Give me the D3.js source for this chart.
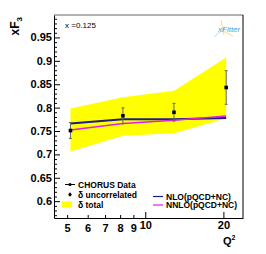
<!DOCTYPE html>
<html>
<head>
<meta charset="utf-8">
<script src="https://cdn.jsdelivr.net/npm/d3@7"></script>
<style>
    body { margin: 0; background: #fff; }
    text { font-family: "Liberation Sans", Arial, sans-serif; }
</style>
</head>
<body>
<div id="chart"></div>
<script>
// CHORUS xF3 at x = 0.125
const q2 = [5.15, 8.2, 12.9, 20.5];
const xf3 = [0.751, 0.7825, 0.790, 0.843];
const errUnc = [0.017, 0.017, 0.019, 0.036];
const bandLo = [0.706, 0.740, 0.745, 0.777];
const bandHi = [0.798, 0.822, 0.836, 0.907];
const nlo = [0.766, 0.775, 0.775, 0.778];
const nnlo = [0.752, 0.766, 0.773, 0.782];

const xMajor = [10, 20];
const xMinor = [5, 6, 7, 8, 9];
const yMajor = [0.6, 0.65, 0.7, 0.75, 0.8, 0.85, 0.9, 0.95];

const width = 266, height = 254;
const margin = { top: 15, right: 23, bottom: 36, left: 54 };

const svg = d3.select("#chart")
    .append("svg")
    .attr("width", width)
    .attr("height", height);

let x = d3.scaleLog()
    .domain([4.45, 23.8])
    .range([margin.left, width - margin.right]);
let y = d3.scaleLinear()
    .domain([0.564, 0.998])
    .range([height - margin.bottom, margin.top]);

// total uncertainty band
let area = d3.area()
    .x((d, i) => x(q2[i]))
    .y0((d, i) => y(bandLo[i]))
    .y1((d, i) => y(bandHi[i]));
svg.append("path")
    .datum(q2)
    .attr("d", area)
    .attr("fill", "#ffff00");

// theory curves
let line = vals => d3.line()
    .x((d, i) => x(q2[i]))
    .y((d, i) => y(vals[i]))(q2);
svg.append("path")
    .attr("d", line(nlo))
    .attr("fill", "none")
    .attr("stroke", "#1c1c8c")
    .attr("stroke-width", 2);
svg.append("path")
    .attr("d", line(nnlo))
    .attr("fill", "none")
    .attr("stroke", "#e020e0")
    .attr("stroke-width", 1.6);

// data points with uncorrelated errors
let pts = svg.append("g")
    .selectAll("g")
    .data(q2)
    .enter()
    .append("g");
pts.append("line")
    .attr("x1", d => x(d)).attr("x2", d => x(d))
    .attr("y1", (d, i) => y(xf3[i] - errUnc[i]))
    .attr("y2", (d, i) => y(xf3[i] + errUnc[i]))
    .attr("stroke", "#666");
[-1, 1].forEach(s => {
    pts.append("line")
        .attr("x1", d => x(d) - 1.5).attr("x2", d => x(d) + 1.5)
        .attr("y1", (d, i) => y(xf3[i] + s * errUnc[i]))
        .attr("y2", (d, i) => y(xf3[i] + s * errUnc[i]))
        .attr("stroke", "#666");
});
pts.append("rect")
    .attr("x", d => x(d) - 1.8)
    .attr("y", (d, i) => y(xf3[i]) - 1.8)
    .attr("width", 3.6).attr("height", 3.6)
    .attr("fill", "#000");

// frame
let x0 = margin.left, x1 = width - margin.right;
let y0 = margin.top, y1 = height - margin.bottom;
svg.append("line").attr("x1", x0).attr("x2", x1).attr("y1", y0).attr("y2", y0)
    .attr("stroke", "#999").attr("stroke-width", 1.5);
svg.append("line").attr("x1", x1).attr("x2", x1).attr("y1", y0).attr("y2", y1)
    .attr("stroke", "#000");

// y axis: inner ticks, minor every 0.01
let yMinorVals = d3.range(0.57, 0.995, 0.01).filter(v => !yMajor.some(m => Math.abs(m - v) < 1e-6));
svg.append("g")
    .attr("transform", "translate(" + x0 + ",0)")
    .call(d3.axisLeft(y).tickValues(yMinorVals).tickSize(-3).tickFormat(""))
    .call(g => g.select(".domain").remove());
let yAxis = svg.append("g")
    .attr("transform", "translate(" + x0 + ",0)")
    .call(d3.axisLeft(y).tickValues(yMajor).tickSizeInner(-6).tickSizeOuter(0)
        .tickPadding(2).tickFormat(d3.format("")));
yAxis.selectAll("text")
    .attr("font-size", 11).attr("font-weight", "bold").attr("fill", "#000");

// x axis (log)
let xAxisMinor = svg.append("g")
    .attr("transform", "translate(0," + y1 + ")")
    .call(d3.axisBottom(x).tickValues(xMinor).tickSizeInner(-3).tickSizeOuter(0)
        .tickPadding(6).tickFormat(d3.format("d")));
let xAxis = svg.append("g")
    .attr("transform", "translate(0," + y1 + ")")
    .call(d3.axisBottom(x).tickValues(xMajor).tickSizeInner(-6).tickSizeOuter(0)
        .tickPadding(3).tickFormat(d3.format("d")));
xAxisMinor.select(".domain").remove();
[xAxis, xAxisMinor].forEach(a => a.selectAll("text")
    .attr("font-size", 11).attr("font-weight", "bold").attr("fill", "#000"));

// titles
svg.append("text")
    .attr("transform", "translate(19,17) rotate(-90)")
    .attr("text-anchor", "end")
    .attr("font-size", 12).attr("font-weight", "bold")
    .html('xF<tspan font-size="8" dy="3">3</tspan>');
svg.append("text")
    .attr("x", 223).attr("y", 245)
    .attr("font-size", 11).attr("font-weight", "bold")
    .html('Q<tspan font-size="7" dy="-5">2</tspan>');
svg.append("text")
    .attr("x", 65).attr("y", 27.5)
    .attr("font-size", 8)
    .text("x =0.125");

// xFitter logo
let logo = svg.append("g").attr("transform", "translate(215,30)");
logo.append("line").attr("x1", 6).attr("y1", -10).attr("x2", 9).attr("y2", 5)
    .attr("stroke", "#f4d27a").attr("stroke-width", 0.8);
logo.append("line").attr("x1", -1).attr("y1", 7).attr("x2", 10).attr("y2", -2)
    .attr("stroke", "#9fd0f0").attr("stroke-width", 0.8);
logo.append("line").attr("x1", 8).attr("y1", 1).attr("x2", 18).attr("y2", 6)
    .attr("stroke", "#f4d27a").attr("stroke-width", 0.8);
logo.append("text")
    .attr("x", 3).attr("y", 2)
    .attr("font-size", 8).attr("font-style", "italic")
    .attr("fill", "#3fa9dd")
    .text("xFitter");

// legend
let leg = svg.append("g").attr("font-size", 8.5).attr("font-weight", "bold");
leg.append("line").attr("x1", 65).attr("x2", 75).attr("y1", 184.5).attr("y2", 184.5)
    .attr("stroke", "#000");
leg.append("circle").attr("cx", 70).attr("cy", 184.5).attr("r", 1.6);
leg.append("line").attr("x1", 70).attr("x2", 70).attr("y1", 192.5).attr("y2", 196.5)
    .attr("stroke", "#000");
leg.append("circle").attr("cx", 70).attr("cy", 194.5).attr("r", 1.6);
leg.append("rect").attr("x", 62).attr("y", 201.5).attr("width", 10).attr("height", 6)
    .attr("fill", "#ffff00");
leg.append("text").attr("x", 78).attr("y", 187.5).text("CHORUS Data");
leg.append("text").attr("x", 78).attr("y", 197.5).text("\u03b4 uncorrelated");
leg.append("text").attr("x", 78).attr("y", 207.5).text("\u03b4 total");

leg.append("line").attr("x1", 153).attr("x2", 163).attr("y1", 196.5).attr("y2", 196.5)
    .attr("stroke", "#1c1c8c").attr("stroke-width", 1.2);
leg.append("line").attr("x1", 153).attr("x2", 163).attr("y1", 205).attr("y2", 205)
    .attr("stroke", "#e020e0").attr("stroke-width", 1.2);
leg.append("text").attr("x", 166).attr("y", 199.5).text("NLO(pQCD+NC)");
leg.append("text").attr("x", 166).attr("y", 208).text("NNLO(pQCD+NC)");
</script>
</body>
</html>
